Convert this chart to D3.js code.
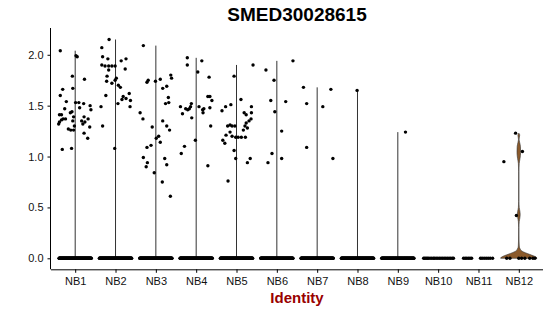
<!DOCTYPE html>
<html>
<head>
<meta charset="utf-8">
<script src="https://cdn.jsdelivr.net/npm/d3@7"></script>
<style>
  body { margin: 0; background: #fff; }
  text { font-family: "Liberation Sans", Arial, Helvetica, sans-serif; }
</style>
</head>
<body>
<svg width="550" height="316"></svg>
<script>
// identities on the x axis
const groups = ['NB1', 'NB2', 'NB3', 'NB4', 'NB5', 'NB6', 'NB7', 'NB8', 'NB9', 'NB10', 'NB11', 'NB12'];
const yTicks = [0, 0.5, 1.0, 1.5, 2.0];

// expressing cells: [jitter offset (in category widths), expression]
const nb1 = [[-0.37,2.04],[0.02,1.99],[0.05,1.98],[-0.07,1.79],[0.23,1.76],[-0.31,1.66],[-0.06,1.67],[-0.37,1.60],
  [-0.22,1.54],[0.01,1.53],[0.09,1.53],[0.21,1.52],[0.37,1.50],[0.39,1.46],[0.11,1.48],[-0.26,1.47],[-0.39,1.41],
  [-0.34,1.41],[-0.12,1.43],[-0.08,1.44],[-0.30,1.37],[-0.34,1.36],[-0.24,1.37],[-0.41,1.32],[-0.39,1.34],[-0.04,1.39],
  [-0.06,1.35],[0.22,1.39],[0.32,1.37],[0.24,1.34],[0.19,1.32],[-0.17,1.27],[-0.11,1.26],[-0.04,1.26],[-0.02,1.30],
  [0.36,1.29],[0.22,1.23],[0.31,1.18],[-0.32,1.07],[-0.09,1.08],[0.16,1.35]];
const nb2 = [[-0.34,2.07],[-0.16,2.15],[-0.32,1.98],[-0.19,1.96],[-0.34,1.90],[-0.26,1.89],[-0.17,1.89],[-0.09,1.89],
  [-0.01,1.89],[-0.17,1.85],[-0.21,1.79],[-0.22,1.74],[-0.09,1.72],[-0.01,1.75],[0.02,1.77],[0.07,1.70],[0.12,1.68],
  [0.14,1.94],[0.26,1.96],[0.24,1.86],[-0.24,1.60],[0.19,1.59],[0.26,1.57],[0.16,1.56],[0.34,1.62],[0.37,1.55],
  [0.06,1.52],[0.36,1.49],[-0.36,1.49],[-0.32,1.30],[-0.02,1.08]];
const nb3 = [[-0.31,2.09],[-0.19,1.75],[-0.22,1.73],[-0.01,1.74],[0.11,1.76],[-0.39,1.43],[-0.32,1.37],[-0.09,1.29],
  [0.17,1.67],[0.27,1.69],[0.37,1.80],[0.39,1.77],[0.24,1.52],[0.31,1.58],[0.32,1.53],[0.17,1.35],[0.27,1.30],
  [0.34,1.26],[0.01,1.18],[0.07,1.20],[0.11,1.14],[-0.22,1.09],[-0.12,1.11],[-0.31,0.99],[-0.21,0.94],[-0.24,0.90],
  [-0.04,0.84],[0.16,0.75],[0.22,0.98],[0.27,0.92],[0.36,0.61]];
const nb4 = [[-0.22,1.97],[-0.22,1.90],[0.14,1.94],[0.04,1.83],[0.32,1.78],[-0.39,1.49],[-0.34,1.42],[-0.26,1.47],
  [-0.17,1.47],[-0.14,1.49],[-0.12,1.52],[-0.21,1.46],[-0.11,1.38],[0.07,1.49],[0.16,1.46],[0.19,1.47],[0.17,1.43],
  [0.29,1.59],[0.34,1.59],[0.39,1.55],[0.34,1.48],[0.36,1.30],[-0.02,1.16],[-0.29,1.10],[-0.37,1.03],[0.29,0.91]];
const nb5 = [[-0.36,1.45],[-0.27,1.49],[-0.14,1.51],[0.11,1.56],[-0.06,1.79],[0.41,1.90],[0.37,1.49],[0.37,1.43],
  [0.36,1.37],[0.31,1.35],[0.24,1.33],[0.19,1.43],[0.24,1.41],[0.21,1.30],[0.27,1.28],[0.17,1.26],[-0.22,1.30],
  [-0.16,1.31],[-0.11,1.30],[-0.04,1.30],[-0.26,1.21],[-0.16,1.24],[-0.11,1.20],[-0.02,1.19],[0.04,1.19],[0.12,1.19],
  [0.22,1.19],[-0.34,1.16],[-0.29,1.13],[-0.06,1.06],[-0.21,0.76],[-0.02,0.98],[0.27,0.94],[0.34,0.98]];
const nb6 = [[-0.27,1.85],[0.40,1.94],[-0.07,1.75],[-0.15,1.55],[0.22,1.54],[-0.05,1.44],[0.12,1.25],[-0.12,1.03],
  [0.12,0.98],[-0.22,0.94]];
const nb7 = [[-0.34,1.68],[-0.26,1.52],[0.34,1.66],[0.14,1.49],[-0.26,1.09],[0.39,0.98]];
const nb8 = [[-0.01,1.65]];
const nb9 = [[0.19,1.24]];
const nb10 = [];
const nb11 = [];
const nb12 = [[-0.08,1.23],[0.09,1.05],[-0.37,0.95],[-0.06,0.42]];
const expressing = [nb1, nb2, nb3, nb4, nb5, nb6, nb7, nb8, nb9, nb10, nb11, nb12];

// cells at zero: dense groups by count, sparse groups by visible jitter offsets
const zeroCounts = [120, 120, 120, 120, 120, 110, 110, 110, 100];
const nb10Zero = [-0.36,-0.33,-0.30,-0.27,-0.24,-0.20,-0.16,-0.12,-0.09,-0.05,-0.01,0.03,0.07,0.11,0.15,0.19,0.23,0.27,0.31,0.35,0.38];
const nb11Zero = [-0.37,-0.33,-0.29,-0.25,-0.21,-0.17,0.05,0.09,0.14,0.19,0.24,0.29,0.35];
const nb12Zero = [-0.30,-0.22,0.00,0.07,0.15,0.27,0.35,0.40];

// NB12 violin outline: [expression, half width in category widths]
const nb12Violin = [[0,0.45],[0.012,0.43],[0.025,0.36],[0.04,0.26],[0.055,0.16],[0.07,0.08],[0.09,0.035],[0.12,0.012],
  [0.18,0.006],[0.30,0.004],[0.36,0.01],[0.40,0.028],[0.43,0.034],[0.46,0.028],[0.50,0.01],[0.56,0.004],[0.85,0.004],
  [0.93,0.01],[0.98,0.03],[1.04,0.045],[1.10,0.04],[1.14,0.02],[1.17,0.008],[1.19,0.015],[1.21,0.022],[1.225,0.01],[1.23,0]];

const svg = d3.select('svg');
const plot = { left: 51, right: 543, top: 28, bottom: 269.3 };

// discrete x with ggplot-like 0.6 expansion
const x = d3.scalePoint().domain(groups).range([plot.left, plot.right]).padding(0.6);
const step = x.step();
const y = d3.scaleLinear().domain([-0.108, 2.263]).range([plot.bottom, plot.top]);

// thin violins (almost all cells at zero) -> a line up to the max
groups.forEach((g, i) => {
  if (g === 'NB12' || expressing[i].length === 0) return;
  const top = d3.max(expressing[i], d => d[1]);
  svg.append('line')
    .attr('x1', x(g)).attr('x2', x(g))
    .attr('y1', y(0)).attr('y2', y(top))
    .attr('stroke', '#333').attr('stroke-width', 1);
});

// NB12 violin
const cx = x('NB12');
svg.append('path')
  .datum(nb12Violin)
  .attr('d', d3.area()
    .y(d => y(d[0]))
    .x0(d => cx - d[1] * step)
    .x1(d => cx + d[1] * step)
    .curve(d3.curveMonotoneY))
  .attr('fill', '#8B5A2B')
  .attr('stroke', '#333')
  .attr('stroke-width', 0.6);

// points
const pts = svg.append('g');
const r = 1.7;
groups.forEach((g, i) => {
  let zeros;
  if (i < zeroCounts.length) {
    const n = zeroCounts[i];
    zeros = d3.range(n).map(k => -0.4 + 0.8 * k / (n - 1));
  } else {
    zeros = [nb10Zero, nb11Zero, nb12Zero][i - zeroCounts.length];
  }
  pts.selectAll(null).data(zeros).enter().append('circle')
    .attr('cx', d => x(g) + d * step).attr('cy', y(0)).attr('r', r);
  pts.selectAll(null).data(expressing[i]).enter().append('circle')
    .attr('cx', d => x(g) + d[0] * step).attr('cy', d => y(d[1])).attr('r', r);
});
pts.selectAll('circle').attr('fill', '#000');

// axes
const yAxis = svg.append('g')
  .attr('transform', 'translate(' + plot.left + ',0)')
  .call(d3.axisLeft(y).tickValues(yTicks).tickFormat(d3.format('.1f')).tickSizeOuter(0).tickSize(3.5).tickPadding(4));
const xAxis = svg.append('g')
  .attr('transform', 'translate(0,' + plot.bottom + ')')
  .call(d3.axisBottom(x).tickSizeOuter(0).tickSize(3.5).tickPadding(4));
[xAxis, yAxis].forEach(a => {
  a.select('.domain').attr('stroke', '#000').attr('stroke-width', 1);
  a.selectAll('.tick line').attr('stroke', '#000').attr('stroke-width', 1);
  a.selectAll('.tick text').attr('font-size', 11).attr('fill', '#111')
    .attr('font-family', '"Liberation Sans", Arial, sans-serif');
});
// full axis lines
xAxis.select('.domain').attr('d', 'M' + plot.left + ',0.5H' + plot.right);
yAxis.select('.domain').attr('d', 'M-0.5,' + plot.top + 'V' + plot.bottom);

// title and x label
svg.append('text')
  .attr('x', (plot.left + plot.right) / 2).attr('y', 21)
  .attr('text-anchor', 'middle')
  .attr('font-size', 19).attr('font-weight', 'bold')
  .text('SMED30028615');
svg.append('text')
  .attr('x', (plot.left + plot.right) / 2).attr('y', 302.5)
  .attr('text-anchor', 'middle')
  .attr('font-size', 15).attr('font-weight', 'bold').attr('fill', '#990000')
  .text('Identity');
</script>
</body>
</html>
